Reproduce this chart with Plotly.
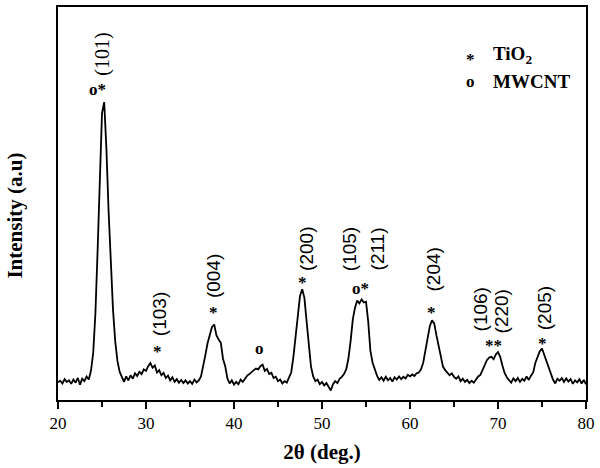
import numpy as np
import plotly.graph_objects as go

# 2-theta grid (0.25 deg step) and intensities (a.u., 0-100 scale)
two_theta = np.arange(20.0, 80.0001, 0.25)
intensity = [
    4.5, 4.9, 4.2, 5.3, 4.6, 5.0, 4.1, 5.2, 4.4, 5.6, 3.9, 5.4, 4.8, 6.0, 5.2, 7.5,   # 20.00-23.75
    12, 22, 38, 58, 73, 75.8, 64, 48, 34, 23, 15, 10, 7.2, 5.8, 4.6, 6.0,            # 24.00-27.75
    5.0, 6.3, 5.4, 6.8, 6.1, 7.2, 6.6, 7.8, 7.4, 8.6, 9.4, 8.2, 8.8, 7.0, 7.6, 6.3,  # 28.00-31.75
    6.9, 5.6, 6.2, 5.0, 5.8, 4.6, 5.3, 4.4, 5.1, 4.3, 5.0, 4.2, 4.8, 4.1, 5.2, 4.5,  # 32.00-35.75
    5.0, 6.0, 8.5, 11.5, 14.5, 16.8, 18.6, 19.2, 16.5, 15.4, 14.6, 10.5, 8.6, 5.5, 4.2, 5.0,  # 36.00-39.75
    3.9, 4.6, 4.0, 5.2, 4.6, 5.4, 6.2, 6.6, 7.2, 7.6, 8.0, 7.8, 8.6, 9.0, 7.4, 7.9,  # 40.00-43.75
    6.6, 6.9, 5.6, 5.9, 4.8, 5.2, 4.2, 4.8, 4.4, 5.6, 7.0, 11, 16, 22, 26.5, 28.2,   # 44.00-47.75
    26, 20, 13.5, 8.5, 6.0, 4.8, 5.2, 4.0, 4.6, 3.7, 4.3, 3.2, 2.4, 4.0, 4.8, 4.3,   # 48.00-51.75
    5.4, 5.9, 6.6, 7.8, 10.5, 15, 20.5, 23.5, 25.3, 24.6, 25.6, 24.8, 25.0, 20, 12.5, 9.5,  # 52.00-55.75
    7.6, 6.2, 5.1, 5.8, 4.9, 5.9, 5.0, 5.6, 4.7, 5.8, 5.2, 6.0, 5.3, 5.9, 5.5, 6.4,  # 56.00-59.75
    6.0, 6.5, 6.1, 6.8, 7.0, 7.8, 9.5, 12.5, 16, 18.8, 20.3, 19.5, 16.5, 13.5, 10.5, 8.5,  # 60.00-63.75
    7.6, 7.0, 6.3, 6.8, 5.9, 5.4, 6.0, 4.8, 5.4, 4.6, 5.1, 4.3, 4.9, 4.4, 5.3, 6.0,  # 64.00-67.75
    6.4, 7.6, 8.8, 10.2, 10.8, 11.0, 10.4, 11.6, 12.2, 11.0, 8.8, 6.9, 5.8, 5.2, 4.4, 5.5,  # 68.00-71.75
    4.8, 5.6, 4.6, 5.4, 4.9, 6.0, 5.1, 6.2, 7.0, 9.5, 11.2, 12.4, 13.1, 11.5, 10.2, 8.2,  # 72.00-75.75
    6.8, 5.2, 4.2, 5.4, 4.9, 5.6, 4.6, 5.5, 4.7, 5.3, 4.1, 5.0, 4.5, 5.3, 4.2, 5.1,  # 76.00-79.75
    4.0,                                                                              # 80.00
]

x_ticks = [20, 30, 40, 50, 60, 70, 80]

# Miller index labels (rotated) : text, 2theta, intensity
hkl_text = ["(101)", "(103)", "(004)", "(200)", "(105)", "(211)", "(204)", "(106)", "(220)", "(205)"]
hkl_x = [25.02, 31.57, 37.76, 48.16, 53.08, 56.29, 62.72, 68.05, 70.44, 75.32]
hkl_y = [87.9, 21.8, 31.6, 38.4, 38.4, 38.4, 33.2, 23.0, 22.5, 23.3]

# phase markers : text, 2theta, intensity
mark_text = ["o*", "*", "*", "o", "*", "o*", "*", "**", "*"]
mark_x = [24.54, 31.26, 37.64, 42.86, 47.78, 54.40, 62.46, 69.53, 75.09]
mark_y = [80.0, 13.3, 23.2, 14.2, 30.8, 29.5, 23.2, 14.9, 15.3]

SERIF = "Liberation Serif"
SANS = "Liberation Sans"

fig = go.Figure()
fig.add_trace(go.Scatter(
    x=two_theta, y=intensity, mode="lines",
    line=dict(color="black", width=1.8), showlegend=False,
))

ann = []
for t, x, y in zip(hkl_text, hkl_x, hkl_y):
    ann.append(dict(x=x, y=y, xref="x", yref="y", text=t, showarrow=False,
                    textangle=-90, font=dict(family=SANS if t != "(101)" else SERIF,
                                             size=19 if t != "(101)" else 20, color="black")))
for t, x, y in zip(mark_text, mark_x, mark_y):
    ann.append(dict(x=x, y=y, xref="x", yref="y", text="<b>" + t + "</b>", showarrow=False,
                    yshift=-4, font=dict(family=SERIF, size=17, color="black")))

# legend made of text
ann += [
    dict(x=66.87, y=87.6, xref="x", yref="y", text="<b>*</b>", showarrow=False, yshift=-4,
         font=dict(family=SERIF, size=17, color="black")),
    dict(x=69.15, y=87.8, xref="x", yref="y", text="<b>TiO<sub>2</sub></b>", showarrow=False,
         xanchor="left", font=dict(family=SERIF, size=19, color="black")),
    dict(x=66.87, y=81.0, xref="x", yref="y", text="<b>o</b>", showarrow=False,
         font=dict(family=SERIF, size=17, color="black")),
    dict(x=69.15, y=81.0, xref="x", yref="y", text="<b>MWCNT</b>", showarrow=False,
         xanchor="left", font=dict(family=SERIF, size=19, color="black")),
    # y axis title
    dict(x=-0.0804, y=0.468, xref="paper", yref="paper", text="<b>Intensity (a.u)</b>",
         xanchor="center", yanchor="middle",
         showarrow=False, textangle=-90, font=dict(family=SERIF, size=21, color="black")),
]

fig.update_layout(
    width=600, height=468,
    margin=dict(l=58, r=13, t=5, b=68),
    paper_bgcolor="white", plot_bgcolor="white",
    annotations=ann,
    xaxis=dict(
        range=[20, 80], tickvals=x_ticks, ticktext=[str(v) for v in x_ticks],
        ticks="outside", ticklen=7, tickwidth=1.5, tickcolor="black",
        minor=dict(ticks="outside", dtick=5, tick0=25, ticklen=5, tickwidth=1.5, tickcolor="black"),
        showline=True, linewidth=2, linecolor="black", mirror=True,
        showgrid=False, zeroline=False,
        tickfont=dict(family=SERIF, size=17, color="black"),
        title=dict(text="<b>2θ (deg.)</b>", standoff=12,
                   font=dict(family=SERIF, size=21, color="black")),
    ),
    yaxis=dict(
        range=[0, 100], showticklabels=False, ticks="",
        showline=True, linewidth=2, linecolor="black", mirror=True,
        showgrid=False, zeroline=False,
    ),
)

fig.write_html("out.html", config={"displayModeBar": False},
               post_script="document.body.style.margin='0';document.body.style.padding='0';")
